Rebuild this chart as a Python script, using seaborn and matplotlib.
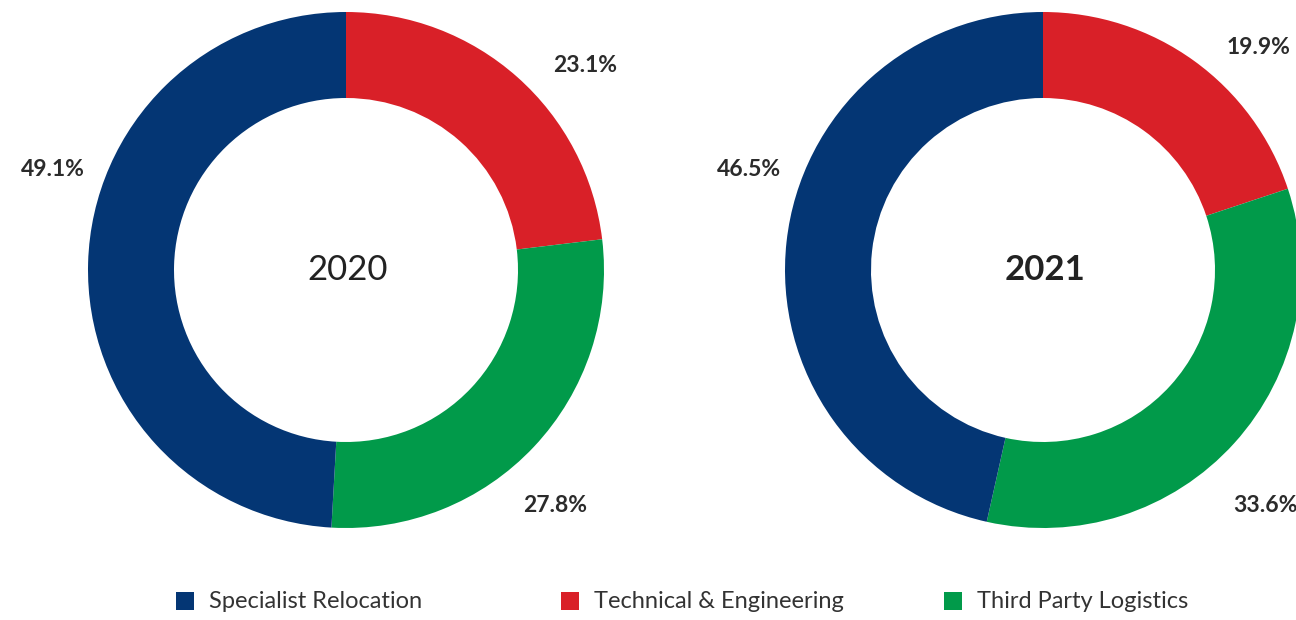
import matplotlib
matplotlib.use("Agg")
import matplotlib.pyplot as plt
from matplotlib.patches import Rectangle
import seaborn as sns
import pandas as pd

# Revenue share by division
categories = ["Specialist Relocation", "Technical & Engineering", "Third Party Logistics"]
share_2020 = [49.1, 23.1, 27.8]
share_2021 = [46.5, 19.9, 33.6]
years = ["2020", "2021"]

# Wedges are drawn clockwise from 12 o'clock in this order
draw_order = ["Technical & Engineering", "Third Party Logistics", "Specialist Relocation"]

palette = {
    "Specialist Relocation": "#043674",
    "Technical & Engineering": "#D92028",
    "Third Party Logistics": "#019A4A",
}

sns.set_theme(style="white")
plt.rcParams["font.family"] = ["Lato", "DejaVu Sans"]

W, H = 1296, 620
fig = plt.figure(figsize=(W / 100, H / 100), dpi=100)
ax = fig.add_axes([0, 0, 1, 1])

df = pd.DataFrame({"category": categories, "2020": share_2020, "2021": share_2021}).set_index("category")

# Layout (pixel space, y measured from the top)
centers = {"2020": (346, 270), "2021": (1043, 270)}
outer_r = 258
ring_w = 86
label_pos = {
    "2020": {"Specialist Relocation": (53, 169), "Technical & Engineering": (585, 65),
             "Third Party Logistics": (555, 505)},
    "2021": {"Specialist Relocation": (749, 169), "Technical & Engineering": (1258, 48),
             "Third Party Logistics": (1265, 505)},
}
title_weight = {"2020": "normal", "2021": "bold"}

for year in years:
    cx, cy = centers[year]
    vals = df.loc[draw_order, year]
    ax.pie(
        vals.values,
        colors=[palette[c] for c in draw_order],
        startangle=90,
        counterclock=False,
        center=(cx, H - cy),
        radius=outer_r,
        wedgeprops=dict(width=ring_w, linewidth=0, antialiased=True),
        frame=True,
    )
    for cat in draw_order:
        lx, ly = label_pos[year][cat]
        ax.text(lx, H - ly, f"{df.loc[cat, year]:.1f}%", ha="center", va="center",
                fontsize=16.5, fontweight="bold", color="#2b2b2b")
    ax.text(cx + 2, H - cy, year, ha="center", va="center", fontsize=25,
            fontweight=title_weight[year], color="#222222")

# Pixel-space limits, reset after the pie() calls
ax.set_xlim(0, W)
ax.set_ylim(0, H)
ax.set_aspect("equal")
ax.axis("off")

# Legend row
legend_x = [176, 561, 944]
for x0, cat in zip(legend_x, categories):
    ax.add_patch(Rectangle((x0, H - 610), 18, 18, facecolor=palette[cat], edgecolor="none"))
    ax.text(x0 + 33, H - 601, cat, ha="left", va="center", fontsize=17, color="#333333")

fig.savefig("out.png", dpi=100, facecolor="white")
